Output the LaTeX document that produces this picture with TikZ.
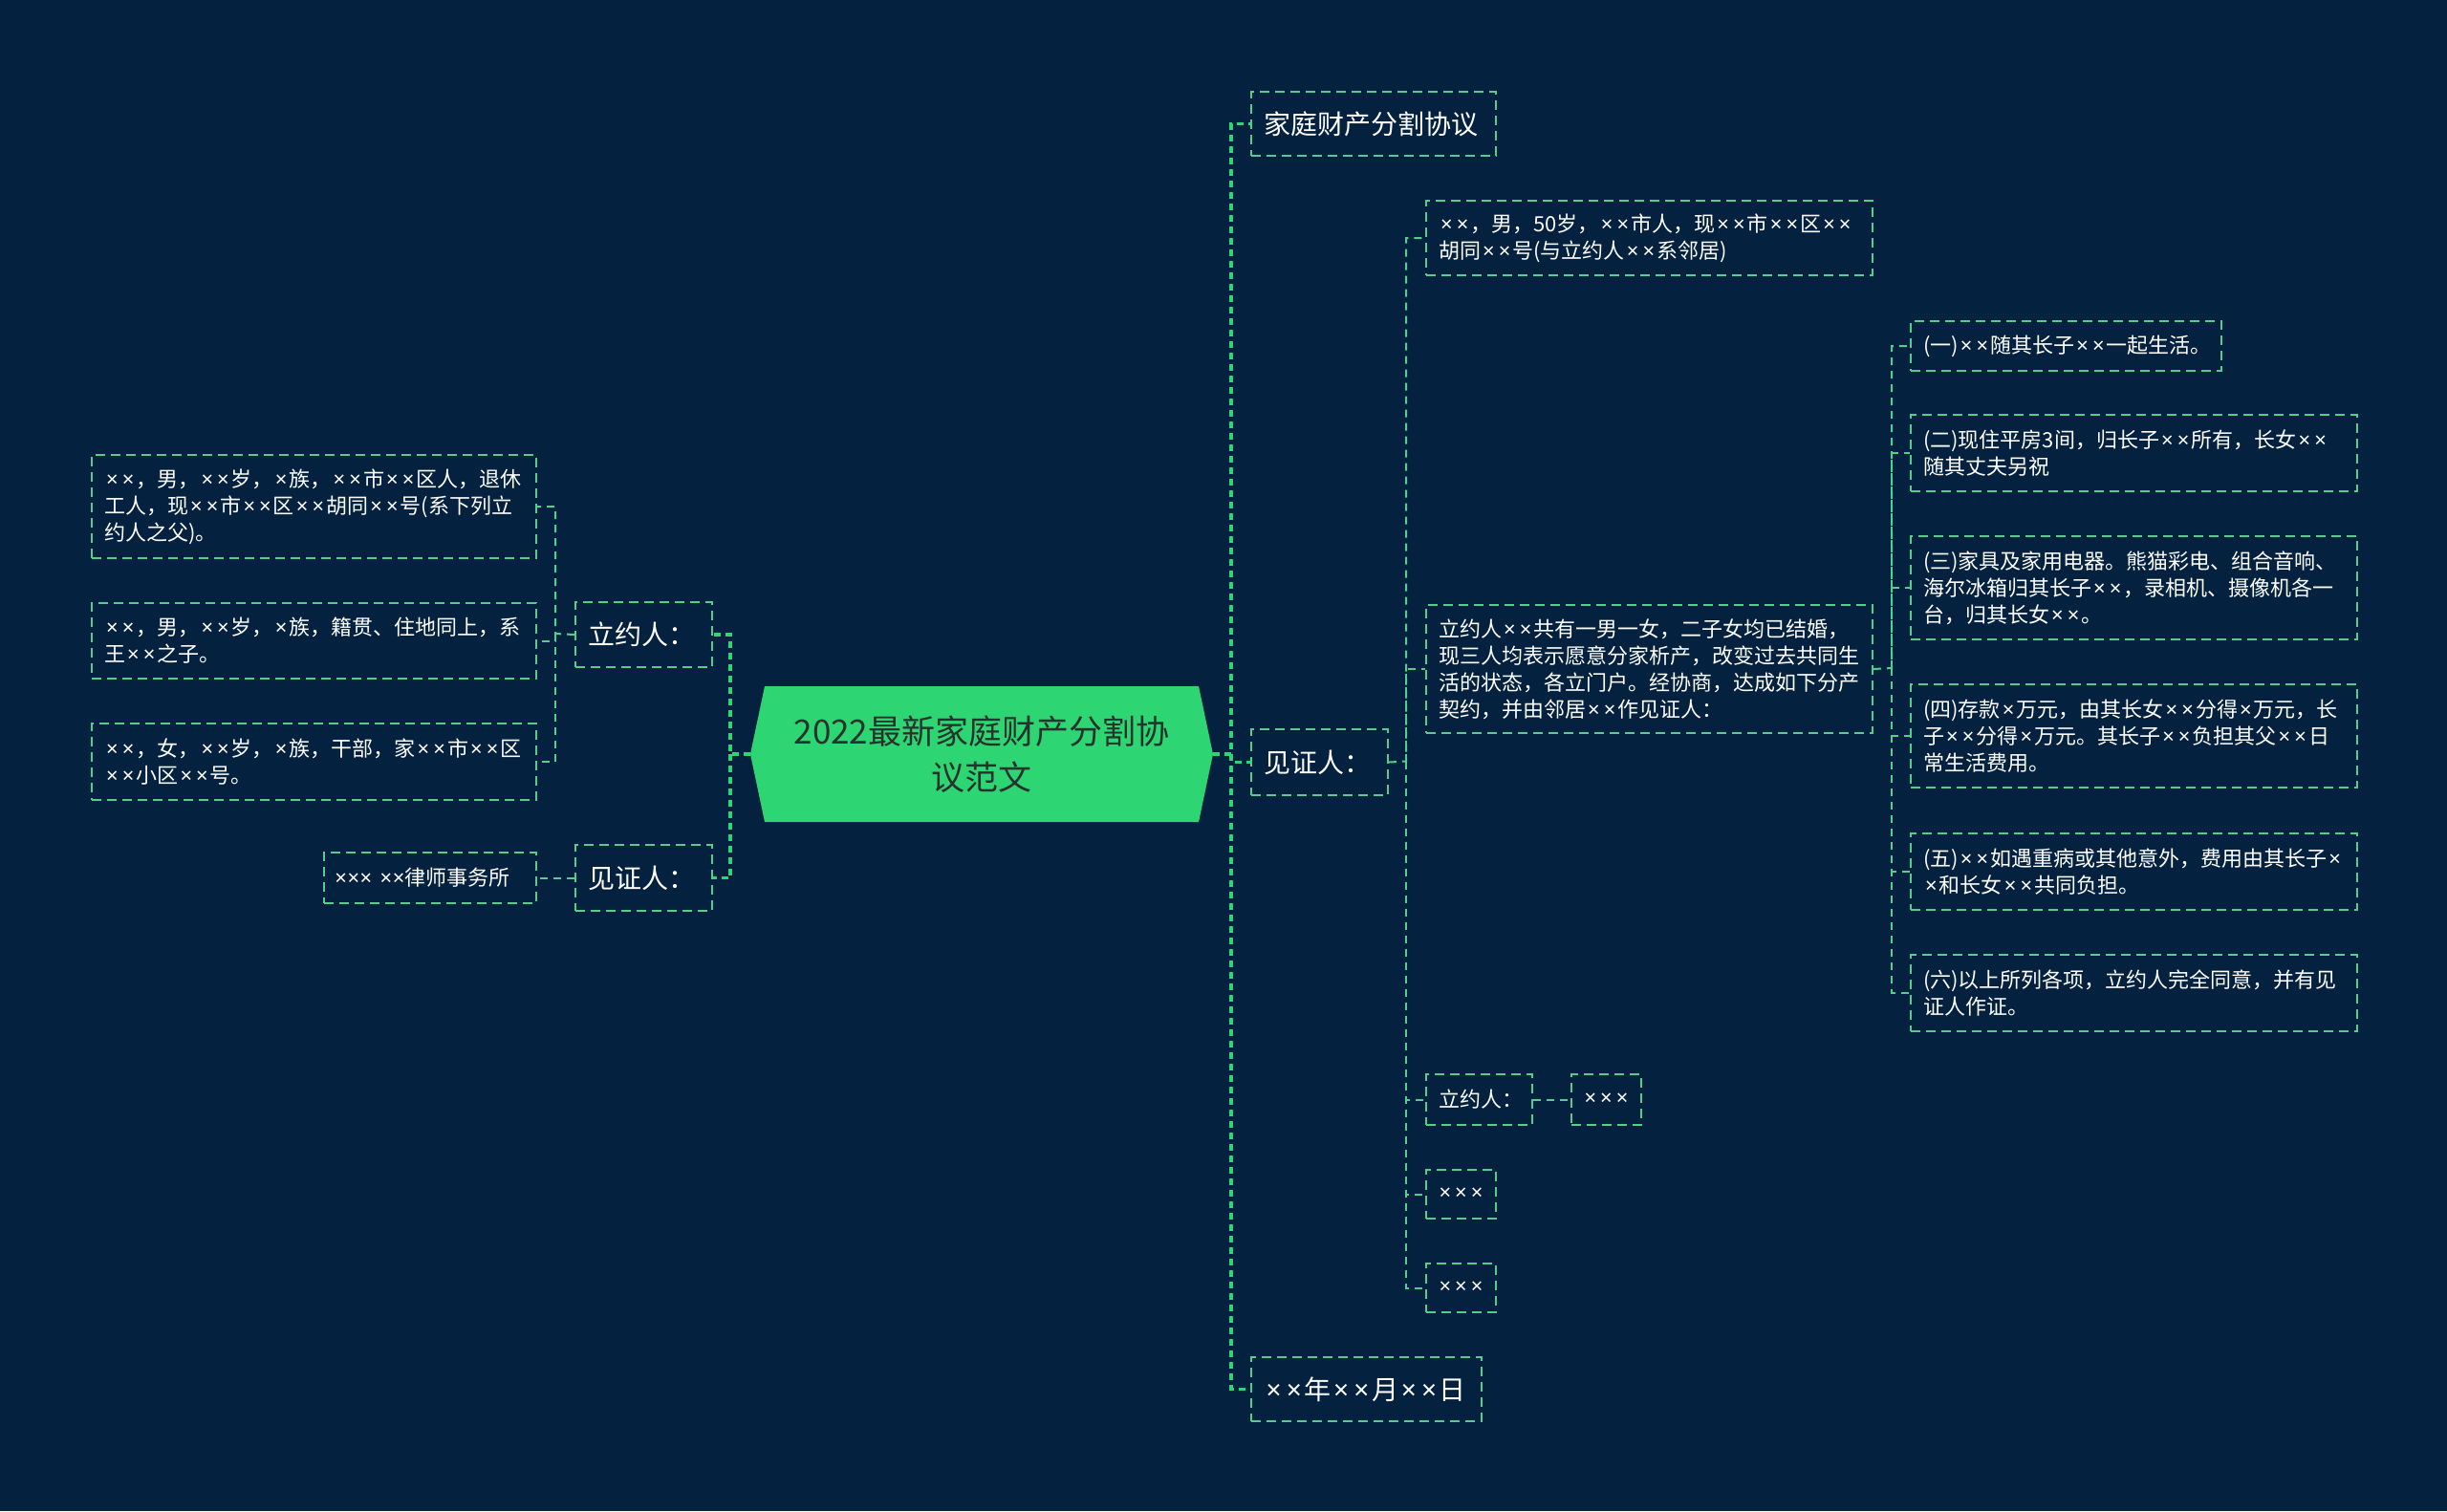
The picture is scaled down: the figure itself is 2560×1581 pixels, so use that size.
\documentclass[tikz,border=0pt]{standalone}
\usepackage{fontspec}
\setmainfont{Noto Sans CJK SC}
\newfontfamily\latinx{Noto Sans}
\usetikzlibrary{calc}
\definecolor{bg}{RGB}{4,34,63}
\definecolor{hexg}{RGB}{46,213,115}
\definecolor{bord}{RGB}{84,206,138}
\definecolor{titletext}{RGB}{38,50,44}
\newcommand\xx{\makebox[0.76em]{\latinx ×}}
\newcommand\xs{\makebox[0.6em]{\latinx ×}}
\tikzset{
  box/.style={draw=bord, line width=1pt, dash pattern=on 5pt off 3pt, text=white,
    anchor=north west, inner xsep=6.5pt, inner ysep=0pt, align=left,
    font=\fontsize{11}{14}\selectfont},
  bigbox/.style={box, font=\fontsize{14}{18}\selectfont},
  cbox/.style={box, align=center, inner xsep=5pt},
  conn/.style={draw=bord, line width=1pt, dash pattern=on 4pt off 3pt},
  mainconn/.style={draw=hexg, line width=1.6pt, dash pattern=on 3.5pt off 2.5pt},
}
\begin{document}
\begin{tikzpicture}[x=0.5pt,y=-0.5pt]
\useasboundingbox (0,0) rectangle (2560,1581);
\fill[bg] (0,0) rectangle (2560,1581);
% root
\fill[hexg] (785,789) -- (800,718) -- (1254,718) -- (1269,789) -- (1254,860) -- (800,860) -- cycle;
\node[minimum width=242pt, minimum height=71pt, inner sep=0pt, align=center, text=titletext,
  font=\fontsize{17.5}{24}\selectfont] (root) at (1027,789) {2022最新家庭财产分割协\\议范文};
% left side
\node[bigbox, text width=58.5pt, minimum height=34pt] (L1) at (601,629) {立约人：};
\node[bigbox, text width=58.5pt, minimum height=34.5pt] (L2) at (601,883) {见证人：};
\node[box, text width=219.5pt, minimum height=54pt] (L1a) at (95,475) {\xx{}\xx{}，男，\xx{}\xx{}岁，\xx{}族，\xx{}\xx{}市\xx{}\xx{}区人，退休\\工人，现\xx{}\xx{}市\xx{}\xx{}区\xx{}\xx{}胡同\xx{}\xx{}号(系下列立\\约人之父)。};
\node[box, text width=219.5pt, minimum height=39.5pt] (L1b) at (95,630) {\xx{}\xx{}，男，\xx{}\xx{}岁，\xx{}族，籍贯、住地同上，系\\王\xx{}\xx{}之子。};
\node[box, text width=219.5pt, minimum height=40pt] (L1c) at (95,756) {\xx{}\xx{}，女，\xx{}\xx{}岁，\xx{}族，干部，家\xx{}\xx{}市\xx{}\xx{}区\\\xx{}\xx{}小区\xx{}\xx{}号。};
\node[box, text width=100pt, inner xsep=5.5pt, minimum height=26.5pt] (L2a) at (338,891) {\xs{}\xs{}\xs{}\hspace{0.35em}\xs{}\xs{}律师事务所};
% right side main
\node[bigbox, text width=115pt, minimum height=33.5pt] (R1) at (1308,95) {家庭财产分割协议};
\node[bigbox, text width=58.5pt, minimum height=34.5pt] (R2) at (1308,762) {见证人：};
\node[bigbox, text width=107.5pt, minimum height=33.5pt] (R3) at (1308,1419) {\xx{}\xx{}年\xx{}\xx{}月\xx{}\xx{}日};
% children of R2
\node[box, text width=220.5pt, minimum height=39pt] (A) at (1491,209) {\xx{}\xx{}，男，50岁，\xx{}\xx{}市人，现\xx{}\xx{}市\xx{}\xx{}区\xx{}\xx{}\\胡同\xx{}\xx{}号(与立约人\xx{}\xx{}系邻居)};
\node[box, text width=220.5pt, minimum height=67pt] (B) at (1491,632) {立约人\xx{}\xx{}共有一男一女，二子女均已结婚，\\现三人均表示愿意分家析产，改变过去共同生\\活的状态，各立门户。经协商，达成如下分产\\契约，并由邻居\xx{}\xx{}作见证人：};
\node[box, text width=42.5pt, minimum height=26.5pt] (C) at (1491,1123) {立约人：};
\node[cbox, text width=26.5pt, minimum height=26.5pt] (C1) at (1643,1123) {\xx{}\xx{}\xx{}};
\node[cbox, text width=26.5pt, minimum height=25.5pt] (D) at (1491,1223) {\xx{}\xx{}\xx{}};
\node[cbox, text width=26.5pt, minimum height=25.5pt] (E) at (1491,1321) {\xx{}\xx{}\xx{}};
% children of B
\node[box, text width=149.5pt, minimum height=26pt] (B1) at (1998,335) {(一)\xx{}\xx{}随其长子\xx{}\xx{}一起生活。};
\node[box, text width=220.5pt, minimum height=40pt] (B2) at (1998,433) {(二)现住平房3间，归长子\xx{}\xx{}所有，长女\xx{}\xx{}\\随其丈夫另祝};
\node[box, text width=220.5pt, minimum height=54pt] (B3) at (1998,560) {(三)家具及家用电器。熊猫彩电、组合音响、\\海尔冰箱归其长子\xx{}\xx{}，录相机、摄像机各一\\台，归其长女\xx{}\xx{}。};
\node[box, text width=220.5pt, minimum height=54pt] (B4) at (1998,715) {(四)存款\xx{}万元，由其长女\xx{}\xx{}分得\xx{}万元，长\\子\xx{}\xx{}分得\xx{}万元。其长子\xx{}\xx{}负担其父\xx{}\xx{}日\\常生活费用。};
\node[box, text width=220.5pt, minimum height=40pt] (B5) at (1998,871) {(五)\xx{}\xx{}如遇重病或其他意外，费用由其长子\xx{}\\\xx{}和长女\xx{}\xx{}共同负担。};
\node[box, text width=220.5pt, minimum height=40pt] (B6) at (1998,998) {(六)以上所列各项，立约人完全同意，并有见\\证人作证。};
% connectors from root
\coordinate (fL) at (764,789);
\coordinate (fR) at (1288,789);
\draw[mainconn] (root.west) -- (fL) |- (L1.east);
\draw[mainconn] (fL) |- (L2.east);
\draw[mainconn] (root.east) -- (fR) |- (R1.west);
\draw[mainconn] (fR) |- (R2.west);
\draw[mainconn] (fR) |- (R3.west);
% left connectors
\coordinate (fL1) at (581,663);
\draw[conn] (L1.west) -- (fL1) |- (L1a.east);
\draw[conn] (fL1) |- (L1b.east);
\draw[conn] (fL1) |- (L1c.east);
\draw[conn] (L2.west) -- (L2a.east);
% right connectors
\coordinate (fR2) at (1471,796.5);
\draw[conn] (R2.east) -- (fR2) |- (A.west);
\draw[conn] (fR2) |- (B.west);
\draw[conn] (fR2) |- (C.west);
\draw[conn] (fR2) |- (D.west);
\draw[conn] (fR2) |- (E.west);
\draw[conn] (C.east) -- (C1.west);
\coordinate (fB) at (1979,699);
\draw[conn] (B.east) -- (fB) |- (B1.west);
\draw[conn] (fB) |- (B2.west);
\draw[conn] (fB) |- (B3.west);
\draw[conn] (fB) |- (B4.west);
\draw[conn] (fB) |- (B5.west);
\draw[conn] (fB) |- (B6.west);
\end{tikzpicture}
\end{document}
